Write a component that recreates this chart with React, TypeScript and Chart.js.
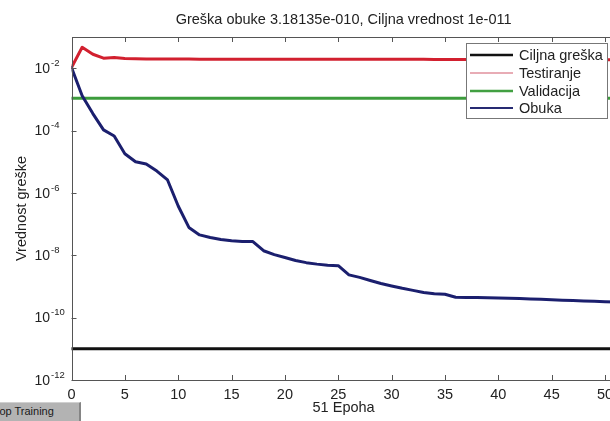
import React, { useEffect, useRef } from 'react';
import { Chart, registerables } from 'chart.js';

Chart.register(...registerables);

const TITLE = 'Greška obuke 3.18135e-010, Ciljna vrednost 1e-011';
const X_TITLE = '51 Epoha';
const Y_TITLE = 'Vrednost greške';
const BUTTON_TEXT = 'Stop Training';

const EPOCHS = [
  0, 1, 2, 3, 4, 5, 6, 7, 8, 9, 10, 11, 12, 13, 14, 15, 16, 17, 18, 19, 20, 21, 22, 23, 24, 25,
  26, 27, 28, 29, 30, 31, 32, 33, 34, 35, 36, 37, 38, 39, 40, 41, 42, 43, 44, 45, 46, 47, 48, 49, 50, 51,
];

const OBUKA = [
  1.05e-2, 1.3e-3, 3.5e-4, 1.05e-4, 6.7e-5, 1.8e-5, 1.0e-5, 8.5e-6, 5.0e-6, 2.6e-6,
  3.8e-7, 7.8e-8, 4.5e-8, 3.7e-8, 3.2e-8, 2.9e-8, 2.78e-8, 2.75e-8, 1.4e-8, 1.05e-8,
  8.5e-9, 6.8e-9, 5.8e-9, 5.2e-9, 4.8e-9, 4.65e-9, 2.35e-9, 1.95e-9, 1.55e-9, 1.24e-9,
  1.03e-9, 8.7e-10, 7.5e-10, 6.4e-10, 5.8e-10, 5.6e-10, 4.5e-10, 4.45e-10, 4.4e-10, 4.33e-10,
  4.27e-10, 4.18e-10, 4.08e-10, 3.97e-10, 3.86e-10, 3.75e-10, 3.63e-10, 3.52e-10, 3.42e-10, 3.33e-10,
  3.25e-10, 3.18135e-10,
];

const TESTIRANJE = [
  1.05e-2, 4.7e-2, 2.8e-2, 2.1e-2, 2.2e-2, 2.05e-2, 2.0e-2, 1.98e-2, 1.97e-2, 1.96e-2,
  1.96e-2, 1.96e-2, 1.95e-2, 1.95e-2, 1.95e-2, 1.95e-2, 1.95e-2, 1.95e-2, 1.95e-2, 1.95e-2,
  1.94e-2, 1.94e-2, 1.94e-2, 1.94e-2, 1.94e-2, 1.93e-2, 1.93e-2, 1.93e-2, 1.93e-2, 1.93e-2,
  1.92e-2, 1.92e-2, 1.92e-2, 1.92e-2, 1.91e-2, 1.91e-2, 1.91e-2, 1.91e-2, 1.9e-2, 1.9e-2,
  1.9e-2, 1.9e-2, 1.89e-2, 1.89e-2, 1.89e-2, 1.88e-2, 1.88e-2, 1.88e-2, 1.87e-2, 1.87e-2,
  1.86e-2, 1.86e-2,
];

const VALIDACIJA = 1.08e-3;
const CILJNA = 1e-11;
const LINE_START = 0;
const LINE_END = 51;

const X_TICKS = [0, 5, 10, 15, 20, 25, 30, 35, 40, 45, 50];
const Y_TICK_EXPONENTS = [-12, -10, -8, -6, -4, -2];

const LEGEND_LABELS = ['Ciljna greška', 'Testiranje', 'Validacija', 'Obuka'];
const LEGEND_COLORS = ['#111111', '#e0909c', '#42a042', '#262a72'];
const LEGEND_WIDTHS = [2.5, 1.5, 2.5, 2];

const FONT = '"Liberation Sans", Arial, sans-serif';
const TEXT = '#222222';
const FS = 14.5;

const decoPlugin = {
  id: 'deco',
  afterDatasetsDraw(chart: any) {
    const { ctx, chartArea: a, scales } = chart;
    const xs = scales.x;
    const ys = scales.y;
    ctx.save();
    // frame
    ctx.strokeStyle = '#555555';
    ctx.lineWidth = 1;
    ctx.strokeRect(Math.round(a.left) + 0.5, Math.round(a.top) + 0.5, a.right - a.left, a.bottom - a.top);
    ctx.beginPath();
    X_TICKS.forEach((v) => {
      const px = Math.round(xs.getPixelForValue(v)) + 0.5;
      ctx.moveTo(px, a.bottom);
      ctx.lineTo(px, a.bottom - 5);
      ctx.moveTo(px, a.top);
      ctx.lineTo(px, a.top + 5);
    });
    Y_TICK_EXPONENTS.forEach((e) => {
      const py = Math.round(ys.getPixelForValue(Math.pow(10, e))) + 0.5;
      ctx.moveTo(a.left, py);
      ctx.lineTo(a.left + 5, py);
      ctx.moveTo(a.right, py);
      ctx.lineTo(a.right - 5, py);
    });
    ctx.stroke();

    // y tick labels with superscript exponents
    ctx.fillStyle = TEXT;
    Y_TICK_EXPONENTS.forEach((e) => {
      const py = ys.getPixelForValue(Math.pow(10, e));
      ctx.font = `14px ${FONT}`;
      ctx.textAlign = 'right';
      ctx.textBaseline = 'middle';
      ctx.fillText('10', 50, py + 1);
      ctx.font = `9.5px ${FONT}`;
      ctx.textAlign = 'left';
      ctx.fillText('-' + Math.abs(e), 51, py - 5);
    });

    // title
    ctx.font = `${FS}px ${FONT}`;
    ctx.textAlign = 'center';
    ctx.textBaseline = 'middle';
    ctx.fillText(TITLE, (a.left + a.right) / 2, 20);

    // legend
    const lx = 466.5;
    const ly = 43.5;
    ctx.fillStyle = '#ffffff';
    ctx.fillRect(lx, ly, 141, 75);
    ctx.strokeStyle = '#777777';
    ctx.lineWidth = 1;
    ctx.strokeRect(lx, ly, 141, 75);
    const rows = [55, 73, 91, 108];
    LEGEND_LABELS.forEach((label, i) => {
      ctx.strokeStyle = LEGEND_COLORS[i];
      ctx.lineWidth = LEGEND_WIDTHS[i];
      ctx.beginPath();
      ctx.moveTo(470, rows[i]);
      ctx.lineTo(513, rows[i]);
      ctx.stroke();
      ctx.fillStyle = TEXT;
      ctx.font = `${FS}px ${FONT}`;
      ctx.textAlign = 'left';
      ctx.textBaseline = 'middle';
      ctx.fillText(label, 519, rows[i] + 1);
    });
    ctx.restore();
  },
};

export default function App() {
  const ref = useRef<HTMLCanvasElement | null>(null);

  useEffect(() => {
    if (!ref.current) return;
    const flat = (v: number) => [
      { x: LINE_START, y: v },
      { x: LINE_END, y: v },
    ];
    const chart = new Chart(ref.current, {
      type: 'line',
      data: {
        datasets: [
          {
            label: LEGEND_LABELS[0],
            data: flat(CILJNA),
            borderColor: '#111111',
            borderWidth: 3,
            order: 3,
          },
          {
            label: LEGEND_LABELS[1],
            data: EPOCHS.map((x, i) => ({ x, y: TESTIRANJE[i] })),
            borderColor: '#d2202f',
            borderWidth: 3,
            order: 2,
          },
          {
            label: LEGEND_LABELS[2],
            data: flat(VALIDACIJA),
            borderColor: '#3c9c3c',
            borderWidth: 3,
            order: 1,
          },
          {
            label: LEGEND_LABELS[3],
            data: EPOCHS.map((x, i) => ({ x, y: OBUKA[i] })),
            borderColor: '#1b1f6e',
            borderWidth: 3,
            order: 0,
          },
        ],
      },
      options: {
        animation: false,
        responsive: false,
        events: [],
        elements: {
          point: { radius: 0 },
          line: { tension: 0, borderJoinStyle: 'round', borderCapStyle: 'round' },
        },
        layout: { padding: { top: 37, right: 10.3, left: 0, bottom: 0 } },
        plugins: {
          legend: { display: false },
          title: { display: false },
          tooltip: { enabled: false },
        },
        scales: {
          x: {
            type: 'linear',
            min: 0,
            max: 51,
            grid: { display: false, drawTicks: false },
            border: { display: false },
            ticks: {
              stepSize: 5,
              includeBounds: false,
              maxRotation: 0,
              autoSkip: false,
              padding: 6,
              color: TEXT,
              font: { family: FONT, size: FS },
            },
            title: {
              display: true,
              text: X_TITLE,
              color: TEXT,
              font: { family: FONT, size: FS },
              padding: { top: 0, bottom: 4 },
            },
            afterFit: (s: any) => {
              s.height = 41;
            },
          },
          y: {
            type: 'logarithmic',
            min: 1e-12,
            max: 1e-1,
            grid: { display: false, drawTicks: false },
            border: { display: false },
            ticks: { display: false },
            title: {
              display: true,
              text: Y_TITLE,
              color: TEXT,
              font: { family: FONT, size: FS },
              padding: { top: 13, bottom: 0 },
            },
            afterFit: (s: any) => {
              s.width = 71.5;
            },
          },
        },
      },
      plugins: [decoPlugin],
    } as any);
    return () => chart.destroy();
  }, []);

  return (
    <div
      style={{
        position: 'absolute',
        left: 0,
        top: 0,
        width: 610,
        height: 421,
        overflow: 'hidden',
        background: '#ffffff',
      }}
    >
      <canvas ref={ref} width={626} height={421} style={{ display: 'block' }} />
      <div
        style={{
          position: 'absolute',
          left: 0,
          top: 402,
          width: 81,
          height: 19,
          background: '#b3b3b3',
          borderRight: '2px solid #858585',
          borderTop: '1px solid #d0d0d0',
          overflow: 'hidden',
          boxSizing: 'border-box',
        }}
      >
        <span
          style={{
            position: 'absolute',
            left: -11,
            top: 2,
            fontFamily: FONT,
            fontSize: 11,
            color: '#1a1a1a',
            whiteSpace: 'nowrap',
          }}
        >
          {BUTTON_TEXT}
        </span>
      </div>
    </div>
  );
}
